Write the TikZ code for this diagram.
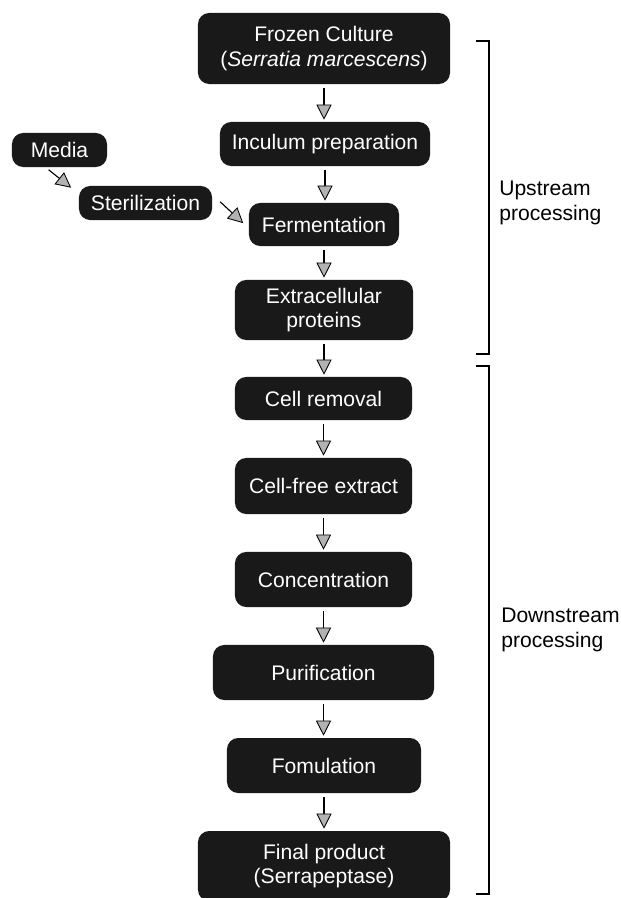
\documentclass[tikz,border=0pt]{standalone}
\usepackage{fontspec}
\setmainfont{Liberation Sans}
\usetikzlibrary{arrows.meta}

\begin{document}
\begin{tikzpicture}[x=0.025cm,y=-0.025cm,
    box/.style={draw=none,fill=black!90,text=white,rounded corners=0.28cm,
                align=center,inner sep=0pt,font=\fontsize{15}{17.5}\selectfont},
    flow/.style={line width=0.8pt,shorten <=0.1cm,shorten >=0.05cm,
                 -{Triangle[width=0.38cm,length=0.38cm,fill=black!30,line width=0.6pt]}},
    bracket/.style={line width=1.3pt},
    side/.style={align=left,anchor=west,inner sep=0pt,font=\fontsize{15}{17.5}\selectfont}]
      \useasboundingbox (0,0) rectangle (620,898);
      % Upstream steps
      \node[box,minimum width=6.3cm,minimum height=1.775cm] (frozen) at (324,48.5)
            {Frozen Culture\\(\textit{Serratia marcescens})};
      \node[box,minimum width=5.25cm,minimum height=1.1cm] (inoc) at (325,144) {Inculum preparation};
      \node[box,minimum width=2.375cm,minimum height=0.85cm] (media) at (59.5,150) {Media};
      \node[box,minimum width=3.325cm,minimum height=0.85cm] (steril) at (145.5,203) {Sterilization};
      \node[box,minimum width=3.75cm,minimum height=1.075cm] (ferm) at (324,224.5) {Fermentation};
      \node[box,minimum width=4.45cm,minimum height=1.5cm] (extra) at (324,310) {Extracellular\\proteins};
      % Downstream steps
      \node[box,minimum width=4.425cm,minimum height=1.075cm] (removal) at (323.5,398.5) {Cell removal};
      \node[box,minimum width=4.425cm,minimum height=1.4cm] (cellfree) at (323.5,486) {Cell-free extract};
      \node[box,minimum width=4.425cm,minimum height=1.375cm] (conc) at (323.5,579.5) {Concentration};
      \node[box,minimum width=5.525cm,minimum height=1.375cm] (purif) at (323.5,672.5) {Purification};
      \node[box,minimum width=4.85cm,minimum height=1.375cm] (formul) at (324,765.5) {Fomulation};
      \node[box,minimum width=6.3cm,minimum height=1.75cm] (final) at (324,866)
            {Final product\\(Serrapeptase)};
      %
      % Flow arrows
      \foreach \a/\b in {frozen/inoc,inoc/ferm,ferm/extra,extra/removal,removal/cellfree,
                         cellfree/conc,conc/purif,purif/formul,formul/final}
        \draw[flow] (\a.south) -- (\a.south |- \b.north);
      \draw[flow] ([xshift=-0.35cm]media.south) -- ([xshift=-0.15cm,yshift=-0.08cm]steril.north west);
      \draw[flow] ([xshift=0.12cm,yshift=0.1cm]steril.east) -- ([xshift=-0.1cm]ferm.west);
      %
      % Brackets and labels
      \draw[bracket] (476,41) -- (489,41) -- (489,354) -- (476,354);
      \draw[bracket] (476,366) -- (489,366) -- (489,894) -- (476,894);
      \node[side] (up) at (499,203) {Upstream\\processing};
      \node[side] (down) at (501,630) {Downstream\\processing};
\end{tikzpicture}
\end{document}
